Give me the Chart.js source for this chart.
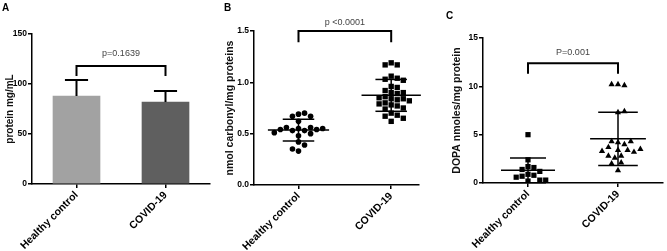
<!DOCTYPE html>
<html>
<head>
<meta charset="utf-8">
<script src="https://cdn.jsdelivr.net/npm/chart.js@4.4.1/dist/chart.umd.min.js"></script>
<style>
  body { margin: 0; background: #fff; width: 667px; height: 251px; overflow: hidden; position: relative; font-family: "Liberation Sans", Arial, sans-serif; }
  .panel { position: absolute; top: 0; height: 251px; }
  .tag { position: absolute; font-weight: bold; font-size: 10px; color: #000; }
</style>
</head>
<body>
<div class="panel" style="left:0;width:222px"><canvas id="chartA"></canvas></div>
<div class="panel" style="left:222px;width:222px"><canvas id="chartB"></canvas></div>
<div class="panel" style="left:444px;width:223px"><canvas id="chartC"></canvas></div>
<div class="tag" style="left:2px;top:2px">A</div>
<div class="tag" style="left:224px;top:2px">B</div>
<div class="tag" style="left:446px;top:10px">C</div>
<script>
// groups on the x axis
const groups = ['Healthy control', 'COVID-19'];

// A - total protein (mean, SD)
const proteinMean = [88, 82];
const proteinSD = [16, 11];
const pTextA = 'p=0.1639';

// B - carbonyls, one value per subject
const carbonylHealthy = [0.69, 0.70, 0.67, 0.67, 0.62, 0.55, 0.53, 0.53, 0.56, 0.56,
                         0.54, 0.54, 0.55, 0.50, 0.48, 0.51, 0.42, 0.39, 0.33, 0.35];
const carbonylCovid = [1.19, 1.17, 1.17, 1.06, 1.04, 1.03, 1.02, 0.96, 0.95, 0.92,
                       0.90, 0.90, 0.89, 0.86, 0.85, 0.84, 0.84, 0.83, 0.82, 0.80,
                       0.79, 0.78, 0.77, 0.75, 0.74, 0.70, 0.68, 0.67, 0.65, 0.62];
const pTextB = 'p <0.0001';

// C - DOPA
const dopaHealthy = [5.0, 2.4, 1.7, 1.6, 1.4, 1.2, 0.9, 0.8, 0.7, 0.6, 0.3, 0.3, 0.2];
const dopaCovid = [10.2, 10.1, 10.2, 7.3, 7.4, 4.2, 4.0, 4.3, 4.3, 3.7, 3.4, 3.4,
                   3.2, 3.3, 3.5, 2.8, 2.6, 2.8, 2.1, 2.0, 1.3];
const pTextC = 'P=0.001';

const FONT = '"Liberation Sans", Arial, sans-serif';

function stats(a) {
  const m = a.reduce((s, v) => s + v, 0) / a.length;
  const sd = Math.sqrt(a.reduce((s, v) => s + (v - m) ** 2, 0) / (a.length - 1));
  return { m, sd };
}

// simple beeswarm so dots with close values spread sideways
function swarm(values, center, dot, pxX, pxY) {
  const placed = [];
  return values.map(v => {
    const py = v * pxY;
    let off = 0;
    for (let k = 0; k < 80; k++) {
      const cand = (k % 2 ? 1 : -1) * Math.ceil(k / 2) * dot / 2;
      if (placed.every(p => (p.x - cand) ** 2 + (p.y - py) ** 2 >= dot * dot)) { off = cand; break; }
    }
    placed.push({ x: off, y: py });
    return { x: center + off / pxX, y: v };
  });
}

function seg(x1, y1, x2, y2, w) {
  return {
    type: 'line', data: [{ x: x1, y: y1 }, { x: x2, y: y2 }],
    borderColor: '#000', borderWidth: w || 1.5, pointRadius: 0,
    fill: false, clip: false, order: -1, borderCapStyle: 'butt'
  };
}

function bracket(top, drop) {
  return {
    type: 'line', data: [{ x: 1, y: drop }, { x: 1, y: top }, { x: 2, y: top }, { x: 2, y: drop }],
    borderColor: '#000', borderWidth: 2, pointRadius: 0, fill: false, clip: false,
    order: -1, borderJoinStyle: 'miter'
  };
}

function errorDots(values, center, halfMean, halfSd) {
  const s = stats(values);
  return [
    seg(center - halfMean, s.m, center + halfMean, s.m),
    seg(center - halfSd, s.m + s.sd, center + halfSd, s.m + s.sd),
    seg(center - halfSd, s.m - s.sd, center + halfSd, s.m - s.sd),
    seg(center, s.m - s.sd, center, s.m + s.sd)
  ];
}

const pLabel = {
  id: 'pLabel',
  afterDraw(chart, args, opts) {
    const { ctx, scales: { x, y } } = chart;
    ctx.save();
    ctx.font = '9px ' + FONT;
    ctx.fillStyle = '#444';
    ctx.textAlign = 'center';
    ctx.textBaseline = 'bottom';
    ctx.fillText(opts.text, x.getPixelForValue(1.5), y.getPixelForValue(opts.y) - opts.gap);
    ctx.restore();
  }
};

function scales(cfg) {
  return {
    x: {
      type: 'linear', min: cfg.xMin, max: cfg.xMax, offset: false,
      afterBuildTicks: s => { s.ticks = [{ value: 1 }, { value: 2 }]; },
      ticks: {
        callback: v => groups[v - 1], minRotation: 45, maxRotation: 45, autoSkip: false,
        color: '#000', padding: 1, font: { family: FONT, size: 10.5, weight: 'bold' }
      },
      grid: { offset: false, drawOnChartArea: false, tickLength: 4, color: '#000', lineWidth: 1.5 },
      border: { color: '#000', width: 1.5 },
      afterFit: s => { s.height = cfg.xHeight; }
    },
    y: {
      min: 0, max: cfg.yMax,
      ticks: {
        stepSize: cfg.step, color: '#000', padding: 1,
        font: { family: FONT, size: 8.5, weight: 'bold' },
        callback: cfg.fmt || (v => v)
      },
      grid: { drawOnChartArea: false, tickLength: 4, color: '#000', lineWidth: 1.5 },
      border: { color: '#000', width: 1.5 },
      title: {
        display: true, text: cfg.title, color: '#111',
        font: { family: FONT, size: cfg.titleSize, weight: 'bold' },
        padding: { top: cfg.titlePad, bottom: 0 }
      },
      afterFit: s => { s.width = cfg.yWidth; }
    }
  };
}

function baseOptions(cfg, pText, pY, gap) {
  return {
    responsive: true, maintainAspectRatio: false, animation: false,
    layout: { padding: { top: cfg.top, right: cfg.right, left: 0, bottom: 0 } },
    plugins: { legend: { display: false }, tooltip: { enabled: false },
               pLabel: { text: pText, y: pY, gap: gap } },
    scales: scales(cfg)
  };
}

// ---- A: bars with upward SD
const cfgA = { xMin: 0.5, xMax: 2.5, yMax: 150, step: 50, title: 'protein mg/mL', titleSize: 10,
               titlePad: 4, yWidth: 32, xHeight: 67, top: 34, right: 12 };
const dsA = [
  bracket(118, 108),
  ...proteinMean.flatMap((m, i) => [
    seg(i + 1, m, i + 1, m + proteinSD[i], 2),
    seg(i + 1 - 0.13, m + proteinSD[i], i + 1 + 0.13, m + proteinSD[i], 2)
  ]),
  {
    type: 'bar', data: proteinMean.map((m, i) => ({ x: i + 1, y: m })),
    backgroundColor: ['#a2a2a2', '#5f5f5f'], barThickness: 47, order: 1
  }
];
new Chart(document.getElementById('chartA'), {
  type: 'scatter', data: { datasets: dsA },
  options: baseOptions(cfgA, pTextA, 118, 8), plugins: [pLabel]
});

// ---- B: dot plot with mean and SD
const cfgB = { xMin: 0.52, xMax: 2.3, yMax: 1.5, step: 0.5, title: 'nmol carbonyl/mg proteins',
               titleSize: 10.5, titlePad: 2, yWidth: 32, xHeight: 66, top: 31, right: 25,
               fmt: v => v.toFixed(1) };
const dsB = [
  bracket(1.5, 1.39),
  ...errorDots(carbonylHealthy, 1, 0.33, 0.17),
  ...errorDots(carbonylCovid, 2, 0.32, 0.17),
  { data: swarm(carbonylHealthy, 1, 6, 92, 103), pointStyle: 'circle', pointRadius: 2.8,
    backgroundColor: '#000', borderColor: '#000', borderWidth: 0, order: 1 },
  { data: swarm(carbonylCovid, 2, 6, 92, 103), pointStyle: 'rect', pointRadius: 3.8,
    backgroundColor: '#000', borderColor: '#000', borderWidth: 0, order: 1 }
];
new Chart(document.getElementById('chartB'), {
  type: 'scatter', data: { datasets: dsB },
  options: baseOptions(cfgB, pTextB, 1.5, 4), plugins: [pLabel]
});

// ---- C: dot plot with mean and SD
const cfgC = { xMin: 0.5, xMax: 2.5, yMax: 15, step: 5, title: 'DOPA nmoles/mg protein',
               titleSize: 10.5, titlePad: 7, yWidth: 39, xHeight: 68, top: 38, right: 1 };
const dsC = [
  bracket(12.4, 11.3),
  ...errorDots(dopaHealthy, 1, 0.3, 0.2),
  ...errorDots(dopaCovid, 2, 0.31, 0.22),
  { data: swarm(dopaHealthy, 1, 6, 91.5, 9.7), pointStyle: 'rect', pointRadius: 3.7,
    backgroundColor: '#000', borderColor: '#000', borderWidth: 0, order: 1 },
  { data: swarm(dopaCovid, 2, 6.5, 91.5, 9.7), pointStyle: 'triangle', pointRadius: 3.6,
    backgroundColor: '#000', borderColor: '#000', borderWidth: 0, order: 1 }
];
new Chart(document.getElementById('chartC'), {
  type: 'scatter', data: { datasets: dsC },
  options: baseOptions(cfgC, pTextC, 12.4, 6), plugins: [pLabel]
});
</script>
</body>
</html>
